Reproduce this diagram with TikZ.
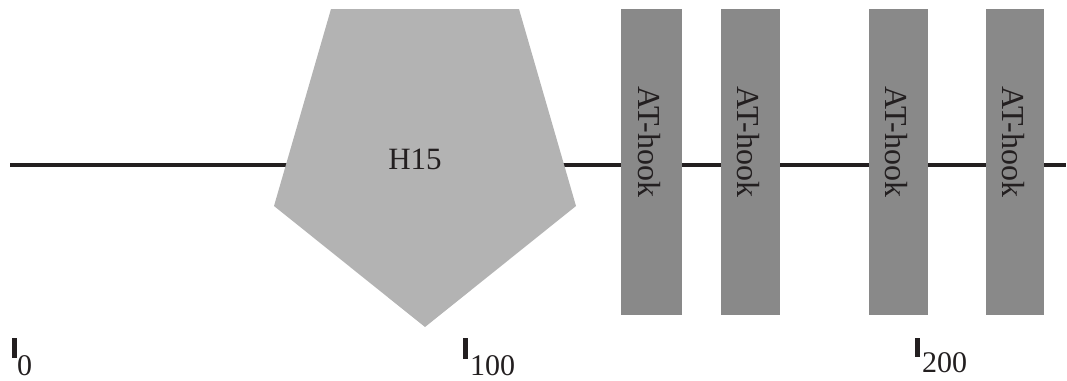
\documentclass[tikz,border=0pt]{standalone}
\usepackage{fontspec}
\setmainfont{Liberation Serif}
\definecolor{ink}{HTML}{231F20}
\definecolor{pentfill}{HTML}{B3B3B3}
\definecolor{hookfill}{HTML}{898989}
\begin{document}
\begin{tikzpicture}[x=1pt,y=-1pt,
  lbl/.style={inner sep=0pt,text=ink,font=\fontsize{30}{36}\selectfont},
  numlbl/.style={lbl,text depth=0pt},
  hooklbl/.style={lbl,font=\fontsize{32}{38}\selectfont,rotate=-90},
  hookbox/.style={fill=hookfill,draw=none},
  tickbar/.style={fill=ink,draw=none}]
\useasboundingbox (0,0) rectangle (1067,380);
% backbone
\coordinate (L0) at (10,165);
\coordinate (L1) at (1066,165);
\draw[ink,line width=4pt] (L0) -- (L1);
% H15 pentagon
\fill[pentfill] (331,9) -- (519,9) -- (576,206) -- (425,327) -- (274,206) -- cycle;
\node[lbl,font=\fontsize{31}{37}\selectfont,anchor=base] (h15) at (415,169) {H15};
% AT-hook boxes
\foreach \i/\a/\b in {1/621/682, 2/721/780, 3/869/928, 4/986/1044}{
  \fill[hookbox] (\a,9) rectangle (\b,315);
  \node[hooklbl] (hook\i) at ({(\a+\b)/2-2},142) {AT-hook};
}
% ticks
\fill[tickbar] (12,338) rectangle (17,358);
\node[numlbl,anchor=base west] (t0) at (17,375) {0};
\fill[tickbar] (463,338) rectangle (468,359);
\node[numlbl,anchor=base west] (t100) at (470,375) {100};
\fill[tickbar] (915,338) rectangle (920,357);
\node[numlbl,anchor=base west] (t200) at (922,372) {200};
\end{tikzpicture}
\end{document}
